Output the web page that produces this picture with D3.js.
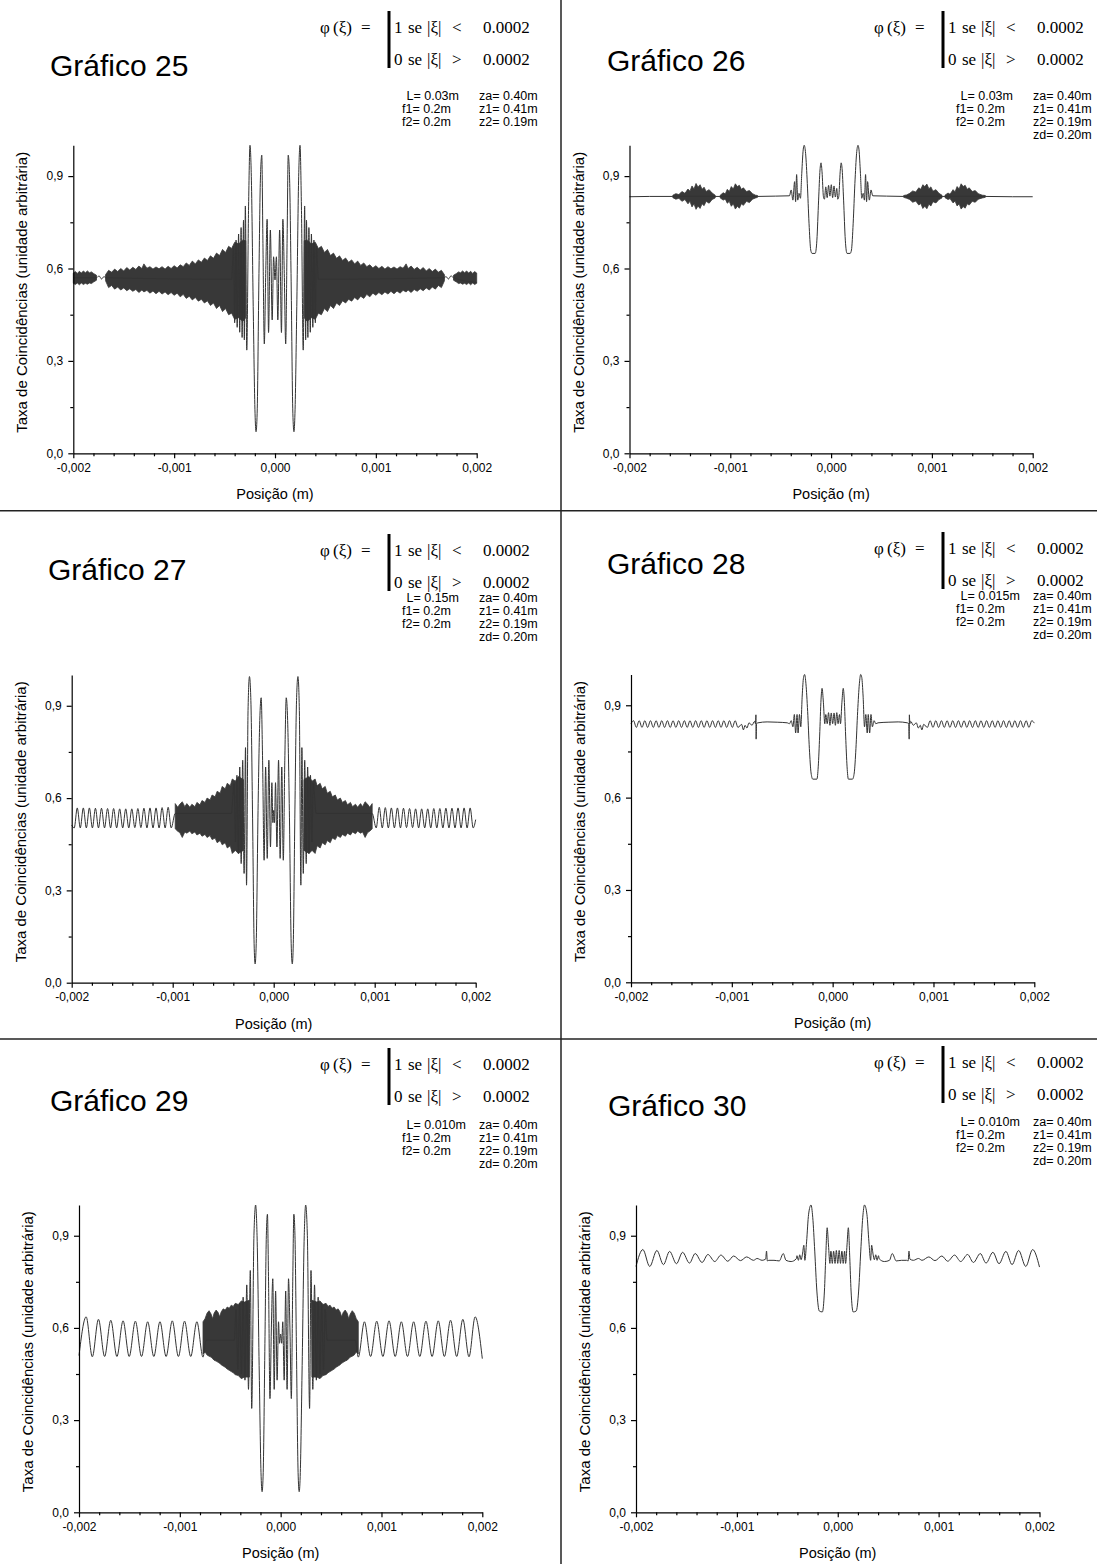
<!DOCTYPE html>
<html>
<head>
<meta charset="utf-8">
<script src="https://cdn.jsdelivr.net/npm/d3@7"></script>
<style>
  body { margin: 0; background: #fff; }
  svg { display: block; }
</style>
</head>
<body>
<svg id="chart" width="1097" height="1564"></svg>
<script>
// ---------- axes ----------
// x values are in units of 0.001 m
const xTicks = [-2, -1, 0, 1, 2];
const xTickLabels = ["-0,002", "-0,001", "0,000", "0,001", "0,002"];
const xMinorTicks = [-1.8, -1.6, -1.4, -1.2, -0.8, -0.6, -0.4, -0.2, 0.2, 0.4, 0.6, 0.8, 1.2, 1.4, 1.6, 1.8];
const yTicks = [0, 0.3, 0.6, 0.9];
const yTickLabels = ["0,0", "0,3", "0,6", "0,9"];
const yMinorTicks = [0.15, 0.45, 0.75];

// ---------- texts ----------
const titles = ["Gráfico 25", "Gráfico 26", "Gráfico 27", "Gráfico 28", "Gráfico 29", "Gráfico 30"];
const paramLeft = [
  ["L= 0.03m", "f1= 0.2m", "f2= 0.2m"],
  ["L= 0.03m", "f1= 0.2m", "f2= 0.2m"],
  ["L= 0.15m", "f1= 0.2m", "f2= 0.2m"],
  ["L= 0.015m", "f1= 0.2m", "f2= 0.2m"],
  ["L= 0.010m", "f1= 0.2m", "f2= 0.2m"],
  ["L= 0.010m", "f1= 0.2m", "f2= 0.2m"]
];
const paramRight = [
  ["za= 0.40m", "z1= 0.41m", "z2= 0.19m"],
  ["za= 0.40m", "z1= 0.41m", "z2= 0.19m", "zd= 0.20m"],
  ["za= 0.40m", "z1= 0.41m", "z2= 0.19m", "zd= 0.20m"],
  ["za= 0.40m", "z1= 0.41m", "z2= 0.19m", "zd= 0.20m"],
  ["za= 0.40m", "z1= 0.41m", "z2= 0.19m", "zd= 0.20m"],
  ["za= 0.40m", "z1= 0.41m", "z2= 0.19m", "zd= 0.20m"]
];
const xLabel = "Posição (m)";
const yLabel = "Taxa de Coincidências (unidade arbitrária)";

// ---------- Gráfico 25 ----------
const band25 = [
  [-2.00,0.552,0.585],[-1.98,0.548,0.590],[-1.96,0.553,0.584],[-1.94,0.547,0.591],[-1.92,0.553,0.585],[-1.90,0.548,0.592],[-1.88,0.552,0.586],[-1.86,0.549,0.592],[-1.84,0.553,0.586],[-1.82,0.551,0.589],[-1.80,0.556,0.584],[-1.77,0.562,0.578],null,
  [-1.68,0.560,0.580],[-1.65,0.538,0.594],[-1.62,0.545,0.588],[-1.59,0.533,0.598],[-1.56,0.540,0.590],[-1.53,0.530,0.600],[-1.50,0.537,0.592],[-1.47,0.528,0.603],[-1.44,0.534,0.595],[-1.41,0.526,0.604],[-1.38,0.532,0.597],[-1.35,0.522,0.608],[-1.32,0.530,0.600],[-1.30,0.524,0.615],[-1.27,0.529,0.601],[-1.24,0.520,0.606],[-1.21,0.527,0.598],[-1.18,0.518,0.605],[-1.15,0.526,0.599],[-1.12,0.517,0.606],[-1.09,0.524,0.598],[-1.06,0.515,0.607],[-1.03,0.522,0.600],[-1.00,0.513,0.609],[-0.97,0.520,0.602],[-0.94,0.508,0.612],[-0.91,0.516,0.606],[-0.88,0.503,0.618],[-0.85,0.510,0.610],[-0.82,0.498,0.624],[-0.79,0.506,0.615],[-0.76,0.494,0.628],[-0.73,0.500,0.620],[-0.70,0.488,0.634],[-0.67,0.495,0.626],[-0.64,0.480,0.641],[-0.61,0.488,0.633],[-0.58,0.470,0.650],[-0.55,0.480,0.642],[-0.52,0.460,0.662],[-0.49,0.470,0.652],[-0.46,0.450,0.672],[-0.43,0.455,0.665],[-0.40,0.435,0.685],[-0.36,0.440,0.680],[-0.32,0.428,0.692],[-0.29,0.440,0.690],null,
  [0.29,0.440,0.690],[0.32,0.428,0.692],[0.36,0.440,0.680],[0.40,0.435,0.685],[0.43,0.455,0.665],[0.46,0.450,0.672],[0.49,0.470,0.652],[0.52,0.460,0.662],[0.55,0.480,0.642],[0.58,0.470,0.650],[0.61,0.488,0.633],[0.64,0.480,0.641],[0.67,0.495,0.626],[0.70,0.488,0.634],[0.73,0.500,0.620],[0.76,0.494,0.628],[0.79,0.506,0.615],[0.82,0.498,0.624],[0.85,0.510,0.610],[0.88,0.503,0.618],[0.91,0.516,0.606],[0.94,0.508,0.612],[0.97,0.520,0.602],[1.00,0.513,0.609],[1.03,0.522,0.600],[1.06,0.515,0.607],[1.09,0.524,0.598],[1.12,0.517,0.606],[1.15,0.526,0.599],[1.18,0.518,0.605],[1.21,0.527,0.598],[1.24,0.520,0.606],[1.27,0.529,0.601],[1.30,0.524,0.615],[1.32,0.530,0.600],[1.35,0.522,0.608],[1.38,0.532,0.597],[1.41,0.526,0.604],[1.44,0.534,0.595],[1.47,0.528,0.603],[1.50,0.537,0.592],[1.53,0.530,0.600],[1.56,0.540,0.590],[1.59,0.533,0.598],[1.62,0.545,0.588],[1.65,0.538,0.594],[1.68,0.560,0.580],null,
  [1.77,0.562,0.578],[1.80,0.556,0.584],[1.82,0.551,0.589],[1.84,0.553,0.586],[1.86,0.549,0.592],[1.88,0.552,0.586],[1.90,0.548,0.592],[1.92,0.553,0.585],[1.94,0.547,0.591],[1.96,0.553,0.584],[1.98,0.548,0.590],[2.00,0.552,0.585]
];
const line25 = [
  [-2.00,0.570],[-1.77,0.570],[-1.745,0.576],[-1.72,0.566],[-1.695,0.574],[-1.68,0.570],[-0.43,0.565],
  [-0.425,0.584],[-0.411,0.673],[-0.400,0.424],[-0.386,0.692],[-0.375,0.409],[-0.361,0.712],[-0.350,0.393],[-0.336,0.733],[-0.326,0.376],[-0.312,0.757],[-0.304,0.368],[-0.294,0.803],[-0.280,0.335],[-0.262,0.800],[-0.248,1.000],[-0.234,0.887],[-0.216,0.476],[-0.198,0.130],[-0.188,0.070],[-0.177,0.130],[-0.159,0.584],[-0.145,0.887],[-0.131,0.968],[-0.120,0.692],[-0.106,0.355],[-0.092,0.584],[-0.078,0.760],[-0.064,0.392],[-0.046,0.725],[-0.028,0.433],[-0.014,0.638],[0.000,0.563],
  [0.014,0.638],[0.028,0.433],[0.046,0.725],[0.064,0.392],[0.078,0.760],[0.092,0.584],[0.106,0.355],[0.120,0.692],[0.131,0.968],[0.145,0.887],[0.159,0.584],[0.177,0.130],[0.188,0.070],[0.198,0.130],[0.216,0.476],[0.234,0.887],[0.248,1.000],[0.262,0.800],[0.280,0.335],[0.294,0.803],[0.304,0.368],[0.312,0.757],[0.326,0.376],[0.336,0.733],[0.350,0.393],[0.361,0.712],[0.375,0.409],[0.386,0.692],[0.400,0.424],[0.411,0.673],[0.425,0.584],
  [0.43,0.565],[1.68,0.570],[1.695,0.574],[1.72,0.566],[1.745,0.576],[1.77,0.570],[2.00,0.555]
];

// ---------- Gráfico 26 ----------
const band26 = [
  [-1.57,0.830,0.838],[-1.54,0.825,0.843],[-1.51,0.828,0.840],[-1.48,0.818,0.850],[-1.45,0.824,0.844],[-1.42,0.810,0.858],[-1.40,0.818,0.851],[-1.38,0.800,0.868],[-1.36,0.810,0.858],[-1.34,0.792,0.876],[-1.32,0.803,0.864],[-1.30,0.795,0.872],[-1.28,0.810,0.857],[-1.26,0.804,0.864],[-1.24,0.818,0.850],[-1.21,0.812,0.856],[-1.18,0.824,0.845],[-1.15,0.829,0.838],null,
  [-1.10,0.829,0.838],[-1.07,0.822,0.846],[-1.05,0.826,0.842],[-1.03,0.812,0.857],[-1.01,0.818,0.850],[-0.99,0.802,0.866],[-0.97,0.810,0.858],[-0.95,0.793,0.875],[-0.93,0.802,0.866],[-0.91,0.796,0.870],[-0.89,0.810,0.857],[-0.87,0.805,0.862],[-0.84,0.818,0.850],[-0.81,0.814,0.853],[-0.78,0.825,0.843],[-0.75,0.829,0.838],[-0.73,0.831,0.837],null,
  [0.72,0.831,0.837],[0.75,0.828,0.839],[0.78,0.824,0.844],[0.81,0.815,0.852],[0.84,0.819,0.848],[0.87,0.806,0.862],[0.89,0.811,0.857],[0.91,0.795,0.872],[0.93,0.802,0.866],[0.95,0.794,0.874],[0.97,0.809,0.859],[0.99,0.803,0.865],[1.01,0.817,0.851],[1.04,0.813,0.856],[1.07,0.824,0.844],[1.10,0.829,0.838],null,
  [1.13,0.830,0.838],[1.16,0.824,0.845],[1.18,0.827,0.841],[1.21,0.813,0.856],[1.23,0.819,0.849],[1.25,0.803,0.866],[1.27,0.810,0.858],[1.29,0.793,0.875],[1.31,0.801,0.866],[1.33,0.796,0.870],[1.35,0.810,0.857],[1.37,0.806,0.862],[1.40,0.818,0.850],[1.43,0.815,0.853],[1.46,0.825,0.843],[1.50,0.829,0.838],[1.53,0.831,0.837]
];
const line26 = [
  [-2.00,0.833],[-1.80,0.834],[-1.57,0.834],[-0.73,0.834],[-0.55,0.835],[-0.413,0.836],[-0.396,0.855],[-0.379,0.822],[-0.362,0.882],[-0.352,0.817],[-0.342,0.905],[-0.331,0.822],[-0.318,0.844],[-0.304,0.828],[-0.291,0.909],[-0.277,0.985],[-0.267,1.000],[-0.253,0.974],[-0.236,0.876],[-0.219,0.747],[-0.202,0.660],[-0.189,0.649],[-0.158,0.649],[-0.141,0.692],[-0.124,0.822],[-0.110,0.920],[-0.100,0.943],[-0.090,0.914],[-0.076,0.833],[-0.066,0.825],[-0.053,0.865],[-0.039,0.830],[-0.025,0.870],[-0.012,0.835],[0.002,0.872],[0.015,0.830],[0.029,0.868],[0.042,0.832],[0.056,0.860],[0.066,0.825],[0.076,0.833],[0.090,0.914],[0.100,0.943],[0.110,0.920],[0.124,0.822],[0.141,0.692],[0.158,0.649],[0.189,0.649],[0.202,0.660],[0.219,0.747],[0.236,0.876],[0.253,0.974],[0.267,1.000],[0.277,0.985],[0.291,0.909],[0.304,0.828],[0.318,0.844],[0.331,0.822],[0.342,0.905],[0.352,0.817],[0.362,0.882],[0.379,0.822],[0.396,0.855],[0.413,0.836],[0.55,0.835],[0.72,0.834],[1.53,0.834],[1.80,0.833],[2.00,0.833]
];

// ---------- Gráfico 27 ----------
const band27 = [
  [-0.975,0.500,0.582],[-0.95,0.492,0.570],[-0.93,0.488,0.580],[-0.905,0.472,0.588],[-0.88,0.490,0.572],[-0.86,0.486,0.582],[-0.83,0.493,0.570],[-0.81,0.484,0.580],[-0.78,0.490,0.572],[-0.76,0.480,0.586],[-0.73,0.486,0.578],[-0.71,0.476,0.592],[-0.68,0.482,0.586],[-0.66,0.472,0.600],[-0.63,0.478,0.594],[-0.61,0.465,0.610],[-0.58,0.470,0.604],[-0.56,0.455,0.622],[-0.53,0.462,0.616],[-0.51,0.448,0.638],[-0.48,0.455,0.630],[-0.46,0.438,0.648],[-0.43,0.445,0.640],[-0.41,0.420,0.662],[-0.38,0.430,0.655],[-0.35,0.420,0.670],[-0.30,0.430,0.660],null,
  [0.30,0.430,0.660],[0.35,0.420,0.670],[0.38,0.430,0.655],[0.41,0.420,0.662],[0.43,0.445,0.640],[0.46,0.438,0.648],[0.48,0.455,0.630],[0.51,0.448,0.638],[0.53,0.462,0.616],[0.56,0.455,0.622],[0.58,0.470,0.604],[0.61,0.465,0.610],[0.63,0.478,0.594],[0.66,0.472,0.600],[0.68,0.482,0.586],[0.71,0.476,0.592],[0.73,0.486,0.578],[0.76,0.480,0.586],[0.78,0.490,0.572],[0.81,0.484,0.580],[0.83,0.493,0.570],[0.86,0.486,0.582],[0.88,0.490,0.572],[0.905,0.472,0.588],[0.93,0.488,0.580],[0.95,0.492,0.570],[0.975,0.500,0.582]
];
const line27 = [
  [-2.000,0.512],[-1.975,0.503],[-1.945,0.568],[-1.915,0.503],[-1.885,0.568],[-1.855,0.503],[-1.825,0.568],[-1.795,0.503],[-1.765,0.567],[-1.735,0.503],[-1.705,0.567],[-1.675,0.503],[-1.645,0.566],[-1.615,0.503],[-1.585,0.566],[-1.555,0.503],[-1.525,0.565],[-1.495,0.503],[-1.465,0.565],[-1.435,0.503],[-1.405,0.565],[-1.375,0.504],[-1.345,0.566],[-1.315,0.504],[-1.285,0.567],[-1.255,0.503],[-1.225,0.568],[-1.195,0.503],[-1.165,0.568],[-1.135,0.503],[-1.105,0.569],[-1.075,0.503],[-1.045,0.570],[-1.015,0.503],[-0.975,0.550],[-0.42,0.550],
  [-0.392,0.647],[-0.378,0.458],[-0.364,0.674],[-0.350,0.420],[-0.336,0.701],[-0.322,0.387],[-0.307,0.723],[-0.293,0.355],[-0.279,0.764],[-0.269,0.317],[-0.254,0.885],[-0.240,0.995],[-0.226,0.917],[-0.208,0.506],[-0.194,0.128],[-0.184,0.061],[-0.173,0.128],[-0.155,0.560],[-0.138,0.852],[-0.124,0.926],[-0.110,0.723],[-0.095,0.398],[-0.080,0.701],[-0.064,0.404],[-0.048,0.723],[-0.032,0.441],[-0.018,0.650],[-0.008,0.520],[0.000,0.560],
  [0.008,0.520],[0.018,0.650],[0.032,0.441],[0.048,0.723],[0.064,0.404],[0.080,0.701],[0.095,0.398],[0.110,0.723],[0.124,0.926],[0.138,0.852],[0.155,0.560],[0.173,0.128],[0.184,0.061],[0.194,0.128],[0.208,0.506],[0.226,0.917],[0.240,0.995],[0.254,0.885],[0.269,0.317],[0.279,0.764],[0.293,0.355],[0.307,0.723],[0.322,0.387],[0.336,0.701],[0.350,0.420],[0.364,0.674],[0.378,0.458],[0.392,0.647],
  [0.42,0.550],[0.975,0.550],[1.015,0.503],[1.045,0.570],[1.075,0.503],[1.105,0.569],[1.135,0.503],[1.165,0.568],[1.195,0.503],[1.225,0.568],[1.255,0.503],[1.285,0.567],[1.315,0.504],[1.345,0.566],[1.375,0.504],[1.405,0.565],[1.435,0.503],[1.465,0.565],[1.495,0.503],[1.525,0.565],[1.555,0.503],[1.585,0.566],[1.615,0.503],[1.645,0.566],[1.675,0.503],[1.705,0.567],[1.735,0.503],[1.765,0.567],[1.795,0.503],[1.825,0.568],[1.855,0.503],[1.885,0.568],[1.915,0.503],[1.945,0.568],[1.975,0.503],[2.000,0.530]
];

// ---------- Gráfico 28 ----------
const band28 = [];
const line28 = [
  [-2.000,0.840],[-1.975,0.850],[-1.947,0.828],[-1.919,0.850],[-1.891,0.828],[-1.863,0.850],[-1.835,0.828],[-1.807,0.850],[-1.779,0.828],[-1.751,0.850],[-1.723,0.828],[-1.695,0.850],[-1.667,0.828],[-1.639,0.850],[-1.611,0.828],[-1.583,0.850],[-1.555,0.828],[-1.527,0.850],[-1.499,0.828],[-1.471,0.850],[-1.443,0.828],[-1.415,0.850],[-1.387,0.828],[-1.359,0.850],[-1.331,0.828],[-1.303,0.850],[-1.275,0.828],[-1.247,0.850],[-1.219,0.828],[-1.191,0.850],[-1.163,0.828],[-1.135,0.850],[-1.107,0.828],[-1.079,0.850],[-1.051,0.828],[-1.023,0.850],[-0.995,0.828],[-0.967,0.850],[-0.939,0.828],
  [-0.903,0.838],[-0.885,0.820],[-0.869,0.835],[-0.850,0.826],[-0.830,0.843],[-0.800,0.835],[-0.774,0.848],[-0.765,0.840],[-0.761,0.869],[-0.759,0.790],[-0.755,0.840],[-0.740,0.843],[-0.650,0.846],[-0.550,0.845],[-0.450,0.843],[-0.428,0.840],
  [-0.411,0.850],[-0.394,0.830],[-0.380,0.870],[-0.367,0.810],[-0.353,0.870],[-0.343,0.810],[-0.329,0.870],[-0.316,0.830],[-0.302,0.930],[-0.289,0.990],[-0.278,1.000],[-0.265,0.970],[-0.248,0.880],[-0.231,0.760],[-0.214,0.680],[-0.197,0.660],[-0.156,0.660],[-0.143,0.700],[-0.129,0.800],[-0.115,0.920],[-0.105,0.955],[-0.092,0.910],[-0.078,0.840],[-0.068,0.870],[-0.054,0.840],[-0.041,0.876],[-0.027,0.835],[-0.014,0.875],[0.000,0.840],
  [0.014,0.875],[0.027,0.835],[0.041,0.876],[0.054,0.840],[0.068,0.870],[0.078,0.840],[0.092,0.910],[0.105,0.955],[0.115,0.920],[0.129,0.800],[0.143,0.700],[0.156,0.660],[0.197,0.660],[0.214,0.680],[0.231,0.760],[0.248,0.880],[0.265,0.970],[0.278,1.000],[0.289,0.990],[0.302,0.930],[0.316,0.830],[0.329,0.870],[0.343,0.810],[0.353,0.870],[0.367,0.810],[0.380,0.870],[0.394,0.830],[0.411,0.850],
  [0.428,0.840],[0.450,0.843],[0.550,0.845],[0.650,0.846],[0.740,0.843],[0.755,0.840],[0.759,0.790],[0.761,0.869],[0.765,0.840],[0.774,0.848],[0.800,0.835],[0.830,0.843],[0.850,0.826],[0.869,0.835],[0.885,0.820],[0.903,0.838],
  [0.939,0.828],[0.967,0.850],[0.995,0.828],[1.023,0.850],[1.051,0.828],[1.079,0.850],[1.107,0.828],[1.135,0.850],[1.163,0.828],[1.191,0.850],[1.219,0.828],[1.247,0.850],[1.275,0.828],[1.303,0.850],[1.331,0.828],[1.359,0.850],[1.387,0.828],[1.415,0.850],[1.443,0.828],[1.471,0.850],[1.499,0.828],[1.527,0.850],[1.555,0.828],[1.583,0.850],[1.611,0.828],[1.639,0.850],[1.667,0.828],[1.695,0.850],[1.723,0.828],[1.751,0.850],[1.779,0.828],[1.807,0.850],[1.835,0.828],[1.863,0.850],[1.891,0.828],[1.919,0.850],[1.947,0.828],[1.975,0.850],[2.000,0.842]
];

// ---------- Gráfico 29 ----------
const band29 = [
  [-0.77,0.515,0.620],[-0.75,0.522,0.630],[-0.73,0.512,0.648],[-0.71,0.508,0.656],[-0.69,0.505,0.645],[-0.675,0.500,0.630],[-0.66,0.495,0.648],[-0.64,0.492,0.658],[-0.62,0.488,0.650],[-0.605,0.485,0.636],[-0.59,0.480,0.652],[-0.57,0.476,0.662],[-0.55,0.472,0.658],[-0.53,0.466,0.668],[-0.51,0.462,0.664],[-0.49,0.458,0.674],[-0.47,0.454,0.670],[-0.45,0.448,0.680],[-0.42,0.445,0.676],[-0.39,0.435,0.688],[-0.36,0.440,0.684],[-0.31,0.440,0.690],null,
  [0.31,0.440,0.690],[0.36,0.440,0.684],[0.39,0.435,0.688],[0.42,0.445,0.676],[0.45,0.448,0.680],[0.47,0.454,0.670],[0.49,0.458,0.674],[0.51,0.462,0.664],[0.53,0.466,0.668],[0.55,0.472,0.658],[0.57,0.476,0.662],[0.59,0.480,0.652],[0.605,0.485,0.636],[0.62,0.488,0.650],[0.64,0.492,0.658],[0.66,0.495,0.648],[0.675,0.500,0.630],[0.69,0.505,0.645],[0.71,0.508,0.656],[0.73,0.512,0.648],[0.75,0.522,0.630],[0.77,0.515,0.620]
];
const line29 = [
  [-2.000,0.510],[-1.929,0.636],[-1.868,0.506],[-1.807,0.628],[-1.746,0.507],[-1.685,0.625],[-1.624,0.507],[-1.563,0.623],[-1.502,0.507],[-1.441,0.622],[-1.380,0.507],[-1.319,0.620],[-1.258,0.507],[-1.197,0.620],[-1.136,0.507],[-1.075,0.623],[-1.014,0.507],[-0.953,0.622],[-0.892,0.507],[-0.831,0.620],[-0.770,0.505],[-0.74,0.560],[-0.46,0.560],
  [-0.442,0.660],[-0.425,0.465],[-0.407,0.680],[-0.389,0.450],[-0.372,0.700],[-0.354,0.430],[-0.336,0.740],[-0.319,0.400],[-0.301,0.787],[-0.287,0.338],[-0.265,0.900],[-0.248,1.000],[-0.234,0.900],[-0.212,0.450],[-0.195,0.130],[-0.184,0.067],[-0.173,0.130],[-0.156,0.550],[-0.142,0.900],[-0.131,0.970],[-0.120,0.750],[-0.106,0.370],[-0.092,0.600],[-0.078,0.760],[-0.064,0.400],[-0.050,0.720],[-0.035,0.430],[-0.021,0.620],[-0.011,0.550],[0.000,0.580],
  [0.011,0.550],[0.021,0.620],[0.035,0.430],[0.050,0.720],[0.064,0.400],[0.078,0.760],[0.092,0.600],[0.106,0.370],[0.120,0.750],[0.131,0.970],[0.142,0.900],[0.156,0.550],[0.173,0.130],[0.184,0.067],[0.195,0.130],[0.212,0.450],[0.234,0.900],[0.248,1.000],[0.265,0.900],[0.287,0.338],[0.301,0.787],[0.319,0.400],[0.336,0.740],[0.354,0.430],[0.372,0.700],[0.389,0.450],[0.407,0.680],[0.425,0.465],[0.442,0.660],
  [0.46,0.560],[0.74,0.560],[0.770,0.505],[0.831,0.620],[0.892,0.507],[0.953,0.622],[1.014,0.507],[1.075,0.623],[1.136,0.507],[1.197,0.620],[1.258,0.507],[1.319,0.620],[1.380,0.507],[1.441,0.622],[1.502,0.507],[1.563,0.623],[1.624,0.507],[1.685,0.625],[1.746,0.507],[1.807,0.628],[1.868,0.506],[1.929,0.636],[2.000,0.500]
];

// ---------- Gráfico 30 ----------
const band30 = [];
const line30 = [
  [-2.000,0.800],[-1.932,0.855],[-1.864,0.800],[-1.793,0.852],[-1.728,0.806],[-1.667,0.849],[-1.599,0.809],[-1.538,0.846],[-1.470,0.811],[-1.413,0.842],[-1.345,0.813],[-1.287,0.839],[-1.219,0.816],[-1.158,0.837],[-1.090,0.817],[-1.032,0.834],[-0.964,0.819],[-0.903,0.831],[-0.835,0.820],[-0.800,0.826],[-0.750,0.820],[-0.715,0.824],[-0.706,0.850],[-0.698,0.818],[-0.683,0.820],[-0.632,0.820],[-0.580,0.818],[-0.540,0.842],[-0.513,0.820],[-0.462,0.816],[-0.411,0.825],
  [-0.404,0.835],[-0.390,0.820],[-0.377,0.838],[-0.363,0.822],[-0.350,0.840],[-0.336,0.869],[-0.326,0.820],[-0.309,0.880],[-0.289,0.970],[-0.265,1.000],[-0.248,0.960],[-0.228,0.850],[-0.207,0.720],[-0.183,0.655],[-0.153,0.652],[-0.132,0.720],[-0.119,0.830],[-0.105,0.926],[-0.092,0.870],[-0.078,0.810],[-0.068,0.850],[-0.054,0.810],[-0.041,0.850],[-0.027,0.810],[-0.014,0.852],[0.000,0.810],
  [0.014,0.852],[0.027,0.810],[0.041,0.850],[0.054,0.810],[0.068,0.850],[0.078,0.810],[0.092,0.870],[0.105,0.926],[0.119,0.830],[0.132,0.720],[0.153,0.652],[0.183,0.655],[0.207,0.720],[0.228,0.850],[0.248,0.960],[0.265,1.000],[0.289,0.970],[0.309,0.880],[0.326,0.820],[0.336,0.869],[0.350,0.840],[0.363,0.822],[0.377,0.838],[0.390,0.820],[0.404,0.835],
  [0.411,0.825],[0.462,0.816],[0.513,0.820],[0.540,0.842],[0.580,0.818],[0.632,0.820],[0.683,0.820],[0.698,0.818],[0.706,0.850],[0.715,0.824],[0.750,0.820],[0.800,0.826],[0.835,0.820],[0.903,0.831],[0.964,0.819],[1.032,0.834],[1.090,0.817],[1.158,0.837],[1.219,0.816],[1.287,0.839],[1.345,0.813],[1.413,0.842],[1.470,0.811],[1.538,0.846],[1.599,0.809],[1.667,0.849],[1.728,0.806],[1.793,0.852],[1.864,0.800],[1.932,0.855],[2.000,0.798]
];

const lines = [line25, line26, line27, line28, line29, line30];
const bands = [band25, band26, band27, band28, band29, band30];

// ---------- layout ----------
const W = 1097, H = 1564;
const panels = [
  { x0: 73.3, x1: 476.7, top: 145.3, bot: 453.3, tx: 50,  ty: 76,   fx: 320, fy: 33,   px: 402, py: 100 },
  { x0: 629.5, x1: 1032.7, top: 145.3, bot: 453.3, tx: 607, ty: 71, fx: 874, fy: 33,   px: 956, py: 100 },
  { x0: 71.7, x1: 475.7, top: 675, bot: 982.7, tx: 48,  ty: 580,  fx: 320, fy: 556,  px: 402, py: 602 },
  { x0: 631, x1: 1034.3, top: 674.5, bot: 982.3, tx: 607, ty: 574, fx: 874, fy: 554, px: 956, py: 600 },
  { x0: 79, x1: 482.3, top: 1205, bot: 1512.3, tx: 50,  ty: 1111, fx: 320, fy: 1070, px: 402, py: 1129 },
  { x0: 636, x1: 1039.5, top: 1205, bot: 1512.3, tx: 608, ty: 1116, fx: 874, fy: 1068, px: 956, py: 1126 }
];

const SANS = "'Liberation Sans', Arial, Helvetica, sans-serif";
const SERIF = "'Liberation Serif', 'Times New Roman', serif";
const INK = "#333";

const svg = d3.select("#chart");
svg.append("rect").attr("width", W).attr("height", H).attr("fill", "#fff");

// dividers
svg.append("line").attr("x1", 561).attr("x2", 561).attr("y1", 0).attr("y2", H)
  .attr("stroke", "#222").attr("stroke-width", 1.5);
[510.7, 1039].forEach(yy => {
  svg.append("line").attr("x1", 0).attr("x2", W).attr("y1", yy).attr("y2", yy)
    .attr("stroke", "#222").attr("stroke-width", 1.5);
});

panels.forEach((p, i) => {
  const x = d3.scaleLinear().domain([-2, 2]).range([p.x0, p.x1]);
  const y = d3.scaleLinear().domain([0, 1]).range([p.bot, p.top]);
  const g = svg.append("g");

  // ── title ──
  g.append("text").attr("x", p.tx).attr("y", p.ty)
    .attr("font-family", SANS).attr("font-size", 30).attr("fill", "#000")
    .text(titles[i]);

  // ── formula ──
  const f = g.append("g").attr("font-family", SERIF).attr("font-size", 17).attr("fill", "#000");
  f.append("text").attr("x", p.fx).attr("y", p.fy).text("φ");
  f.append("text").attr("x", p.fx + 13).attr("y", p.fy).text("(ξ)");
  f.append("text").attr("x", p.fx + 41).attr("y", p.fy).text("=");
  f.append("line").attr("x1", p.fx + 69).attr("x2", p.fx + 69)
    .attr("y1", p.fy - 22).attr("y2", p.fy + 35).attr("stroke", "#000").attr("stroke-width", 3);
  [["1", "<"], ["0", ">"]].forEach((r, k) => {
    const yy = p.fy + k * 31.5;
    f.append("text").attr("x", p.fx + 74).attr("y", yy).text(r[0]);
    f.append("text").attr("x", p.fx + 88).attr("y", yy).text("se");
    f.append("text").attr("x", p.fx + 107).attr("y", yy).text("|ξ|");
    f.append("text").attr("x", p.fx + 132).attr("y", yy).text(r[1]);
    f.append("text").attr("x", p.fx + 163).attr("y", yy).text("0.0002");
  });

  // ── parameters ──
  const pr = g.append("g").attr("font-family", SANS).attr("font-size", 12.5).attr("fill", "#000");
  paramLeft[i].forEach((t, k) => {
    pr.append("text").attr("x", p.px + (k === 0 ? 4.5 : 0)).attr("y", p.py + k * 13).text(t);
  });
  paramRight[i].forEach((t, k) => {
    pr.append("text").attr("x", p.px + 77).attr("y", p.py + k * 13).text(t);
  });

  // ── dense band ──
  const area = d3.area()
    .defined(d => d !== null)
    .x(d => x(d[0])).y0(d => y(d[1])).y1(d => y(d[2]));
  g.append("path").datum(bands[i]).attr("d", area)
    .attr("fill", "#383838").attr("stroke", "#383838").attr("stroke-width", 0.8);

  // ── trace ──
  const line = d3.line().curve(d3.curveMonotoneX).x(d => x(d[0])).y(d => y(d[1]));
  g.append("path").datum(lines[i]).attr("d", line)
    .attr("fill", "none").attr("stroke", INK).attr("stroke-width", 1);

  // ── axes ──
  const xa = g.append("g").attr("transform", `translate(0,${p.bot})`)
    .call(d3.axisBottom(x).tickValues(xTicks).tickFormat((d, k) => xTickLabels[k])
      .tickSize(5).tickSizeOuter(0).tickPadding(5));
  g.append("g").attr("transform", `translate(0,${p.bot})`)
    .call(d3.axisBottom(x).tickValues(xMinorTicks).tickFormat("").tickSize(3).tickSizeOuter(0))
    .call(a => a.select(".domain").remove());
  const ya = g.append("g").attr("transform", `translate(${p.x0},0)`)
    .call(d3.axisLeft(y).tickValues(yTicks).tickFormat((d, k) => yTickLabels[k])
      .tickSize(5).tickSizeOuter(0).tickPadding(5));
  g.append("g").attr("transform", `translate(${p.x0},0)`)
    .call(d3.axisLeft(y).tickValues(yMinorTicks).tickFormat("").tickSize(3).tickSizeOuter(0))
    .call(a => a.select(".domain").remove());
  g.selectAll(".domain, .tick line").attr("stroke", "#000").attr("stroke-width", 1.2);
  [xa, ya].forEach(a => a.attr("font-family", SANS).attr("font-size", 12)
    .selectAll("text").attr("fill", "#000"));

  // ── axis titles ──
  g.append("text").attr("x", (p.x0 + p.x1) / 2).attr("y", p.bot + 46)
    .attr("text-anchor", "middle").attr("font-family", SANS).attr("font-size", 14.5)
    .text(xLabel);
  const cy = (p.top + p.bot) / 2 - 7;
  g.append("text").attr("transform", `translate(${p.x0 - 46},${cy}) rotate(-90)`)
    .attr("text-anchor", "middle").attr("font-family", SANS).attr("font-size", 15)
    .text(yLabel);
});
</script>
</body>
</html>
